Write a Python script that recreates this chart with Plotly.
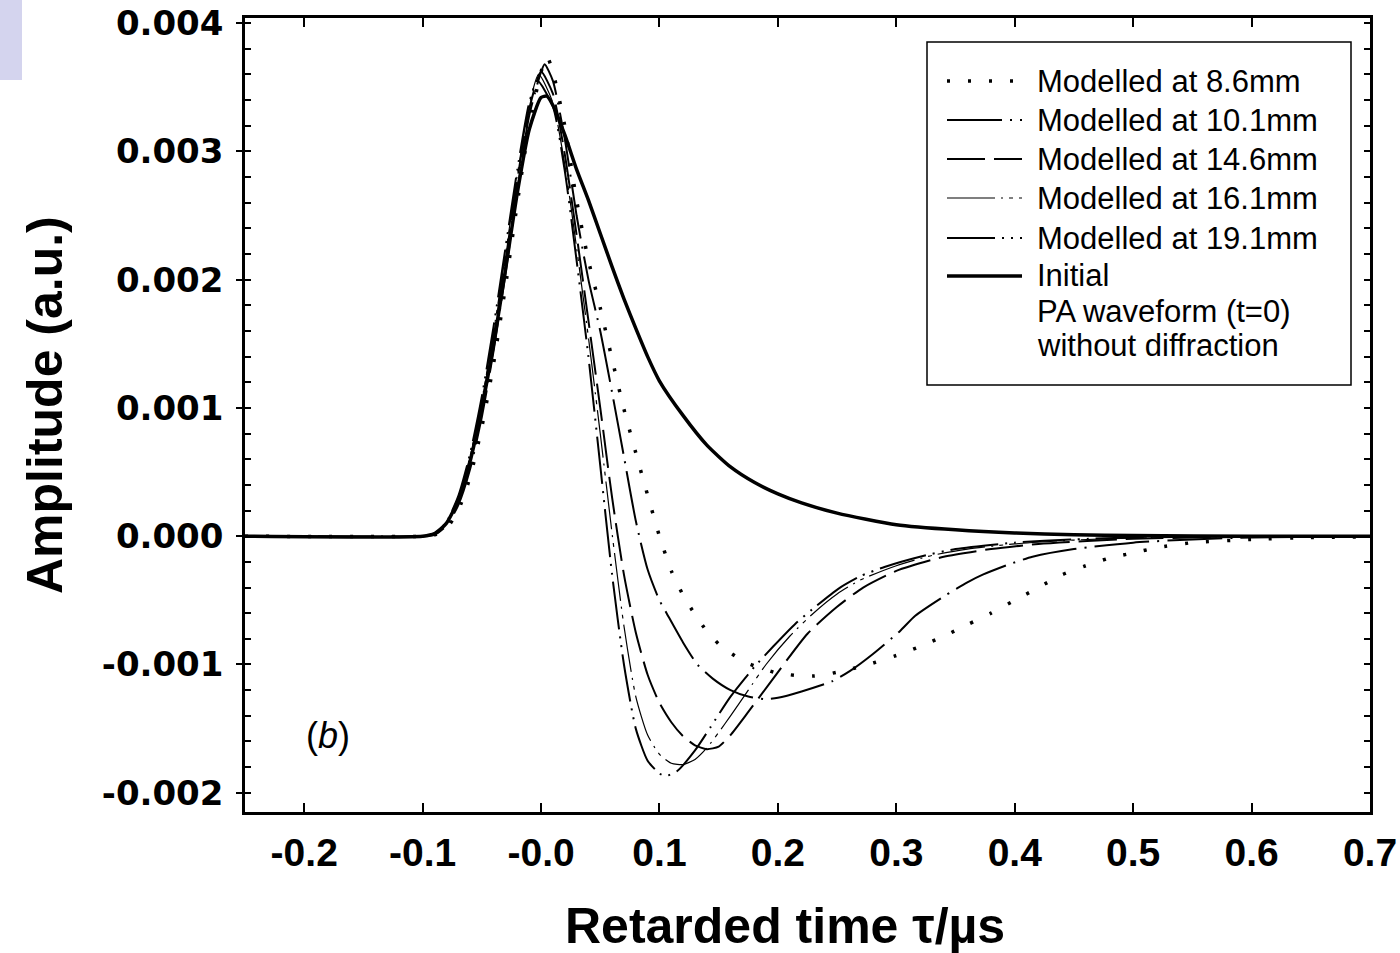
import plotly.graph_objects as go

# ---------------- data (amplitude in units of 1e-3 a.u.) ----------------
t_init = [-0.25, -0.10, -0.09, -0.08, -0.07, -0.06, -0.05, -0.04, -0.03, -0.02, -0.01, 0.0, 0.005, 0.01,
          0.02, 0.03, 0.04, 0.05, 0.06, 0.07, 0.08, 0.09, 0.10, 0.12, 0.14, 0.16, 0.18, 0.20, 0.22,
          0.25, 0.30, 0.35, 0.40, 0.45, 0.50, 0.60, 0.70]
a_init = [0.0, 0.0, 0.02, 0.10, 0.28, 0.58, 1.00, 1.50, 2.08, 2.68, 3.17, 3.42, 3.43, 3.36,
          3.13, 2.86, 2.62, 2.36, 2.10, 1.85, 1.62, 1.40, 1.21, 0.94, 0.71, 0.54, 0.42, 0.33, 0.26,
          0.18, 0.09, 0.05, 0.025, 0.012, 0.005, 0.0, 0.0]

t_86 = [-0.25, -0.10, -0.09, -0.08, -0.07, -0.06, -0.05, -0.04, -0.03, -0.02, -0.01, 0.0, 0.005, 0.01,
        0.02, 0.03, 0.04, 0.05, 0.06, 0.07, 0.08, 0.09, 0.10, 0.11, 0.12, 0.13, 0.14, 0.15, 0.16,
        0.17, 0.18, 0.19, 0.20, 0.21, 0.22, 0.23, 0.24, 0.25, 0.26, 0.28, 0.30, 0.32, 0.34, 0.36,
        0.38, 0.40, 0.42, 0.44, 0.46, 0.48, 0.50, 0.52, 0.55, 0.60, 0.65, 0.70]
a_86 = [0.0, 0.0, 0.01, 0.06, 0.20, 0.46, 0.85, 1.35, 1.95, 2.60, 3.20, 3.62, 3.74, 3.62,
        3.20, 2.62, 2.15, 1.78, 1.38, 0.99, 0.65, 0.32, 0.0, -0.27, -0.46, -0.61, -0.74, -0.84, -0.91,
        -0.97, -1.01, -1.04, -1.07, -1.08, -1.09, -1.09, -1.08, -1.06, -1.04, -0.99, -0.93, -0.86, -0.78, -0.69,
        -0.60, -0.50, -0.40, -0.30, -0.23, -0.17, -0.13, -0.09, -0.05, -0.025, -0.01, -0.005]

t_101 = [-0.25, -0.10, -0.09, -0.08, -0.07, -0.06, -0.05, -0.04, -0.03, -0.02, -0.01, 0.0, 0.003, 0.01,
         0.02, 0.03, 0.04, 0.05, 0.06, 0.07, 0.08, 0.09, 0.10, 0.106, 0.12, 0.132, 0.145, 0.16, 0.175,
         0.19, 0.20, 0.22, 0.246, 0.261, 0.28, 0.303, 0.316, 0.34, 0.36, 0.373, 0.395, 0.415, 0.45,
         0.50, 0.55, 0.60, 0.70]
a_101 = [0.0, 0.0, 0.01, 0.08, 0.24, 0.52, 0.93, 1.45, 2.05, 2.70, 3.28, 3.62, 3.68, 3.55,
         3.10, 2.50, 2.00, 1.60, 1.12, 0.62, 0.12, -0.26, -0.50, -0.60, -0.83, -1.00, -1.11, -1.20, -1.25,
         -1.27, -1.26, -1.21, -1.13, -1.05, -0.92, -0.74, -0.62, -0.47, -0.36, -0.30, -0.22, -0.16, -0.10,
         -0.05, -0.025, -0.01, 0.0]

t_146 = [-0.25, -0.10, -0.09, -0.08, -0.07, -0.06, -0.05, -0.04, -0.03, -0.02, -0.01, 0.0, 0.01,
         0.02, 0.03, 0.04, 0.05, 0.06, 0.07, 0.08, 0.09, 0.10, 0.11, 0.12, 0.13, 0.14, 0.15, 0.16,
         0.175, 0.196, 0.225, 0.25, 0.272, 0.30, 0.34, 0.38, 0.42, 0.50, 0.60, 0.70]
a_146 = [0.0, 0.0, 0.02, 0.10, 0.29, 0.60, 1.03, 1.55, 2.15, 2.78, 3.33, 3.62, 3.45,
         2.98, 2.35, 1.68, 1.00, 0.30, -0.30, -0.75, -1.08, -1.30, -1.45, -1.56, -1.63, -1.66, -1.64, -1.55,
         -1.37, -1.11, -0.76, -0.55, -0.40, -0.27, -0.16, -0.10, -0.06, -0.02, -0.005, 0.0]

t_161 = [-0.25, -0.10, -0.09, -0.08, -0.07, -0.06, -0.05, -0.04, -0.03, -0.02, -0.01, -0.002, 0.01,
         0.02, 0.03, 0.04, 0.05, 0.06, 0.07, 0.08, 0.09, 0.10, 0.11, 0.12, 0.13, 0.14, 0.15, 0.16,
         0.175, 0.19, 0.21, 0.23, 0.25, 0.27, 0.30, 0.33, 0.36, 0.40, 0.45, 0.50, 0.60, 0.70]
a_161 = [0.0, 0.0, 0.02, 0.10, 0.30, 0.62, 1.06, 1.60, 2.20, 2.82, 3.36, 3.60, 3.38,
         2.90, 2.25, 1.55, 0.80, 0.02, -0.70, -1.25, -1.55, -1.70, -1.77, -1.78, -1.74, -1.65, -1.53, -1.40,
         -1.20, -1.00, -0.78, -0.60, -0.45, -0.34, -0.23, -0.15, -0.10, -0.06, -0.03, -0.015, 0.0, 0.0]

t_191 = [-0.25, -0.10, -0.09, -0.08, -0.07, -0.06, -0.05, -0.04, -0.03, -0.02, -0.01, -0.003, 0.01,
         0.02, 0.03, 0.04, 0.05, 0.06, 0.07, 0.08, 0.09, 0.10, 0.105, 0.115, 0.13, 0.143, 0.16, 0.18,
         0.196, 0.215, 0.233, 0.251, 0.27, 0.29, 0.32, 0.35, 0.40, 0.45, 0.50, 0.60, 0.70]
a_191 = [0.0, 0.0, 0.02, 0.11, 0.31, 0.64, 1.09, 1.64, 2.25, 2.86, 3.38, 3.55, 3.35,
         2.85, 2.15, 1.40, 0.55, -0.30, -1.00, -1.50, -1.75, -1.85, -1.87, -1.83, -1.67, -1.49, -1.25, -1.02,
         -0.86, -0.68, -0.54, -0.41, -0.31, -0.24, -0.16, -0.10, -0.05, -0.025, -0.01, 0.0, 0.0]

series_names = ["Modelled at 8.6mm", "Modelled at 10.1mm", "Modelled at 14.6mm",
                "Modelled at 16.1mm", "Modelled at 19.1mm", "Initial"]
legend_extra = ["PA waveform (t=0)", "without diffraction"]

x_tickvals = [-0.2, -0.1, 0.0, 0.1, 0.2, 0.3, 0.4, 0.5, 0.6, 0.7]
x_ticktext = ["-0.2", "-0.1", "-0.0", "0.1", "0.2", "0.3", "0.4", "0.5", "0.6", "0.7"]
y_tickvals = [-0.002, -0.001, 0.0, 0.001, 0.002, 0.003, 0.004]
y_ticktext = ["-0.002", "-0.001", "0.000", "0.001", "0.002", "0.003", "0.004"]

SCALE = 1e-3

# ---------------- styles ----------------
styles = [
    dict(width=3.5, dash="3px,18px"),                       # 8.6 dotted
    dict(width=2.0, dash="55px,8px,2px,8px"),               # 10.1
    dict(width=2.0, dash="38px,9px"),                       # 14.6
    dict(width=1.2, dash="48px,6px,2px,6px,4px,6px"),       # 16.1
    dict(width=2.0, dash="48px,7px,2px,7px,2px,7px"),       # 19.1
    dict(width=3.5, dash="solid"),                          # initial
]

curves = [(t_86, a_86), (t_101, a_101), (t_146, a_146), (t_161, a_161), (t_191, a_191), (t_init, a_init)]

fig = go.Figure()
for (tt, aa), st, nm in zip(curves, styles, series_names):
    fig.add_trace(go.Scatter(
        x=tt, y=[v * SCALE for v in aa], mode="lines", name=nm, showlegend=False,
        line=dict(color="black", width=st["width"], dash=st["dash"], shape="spline", smoothing=0.6),
    ))
# invisible helper trace for the right-hand tick axis
fig.add_trace(go.Scatter(x=[0.7], y=[0.0], yaxis="y2", mode="markers",
                         marker=dict(opacity=0), showlegend=False, hoverinfo="skip"))

L, R, T, B = 245, 1370, 18, 812
W, H = 1400, 953


def px(x):
    return (x - L) / (R - L)


def py(y):
    return (B - y) / (B - T)


tick_font_x = dict(family="Liberation Sans, Arial", size=39, color="black", weight="bold")
tick_font_y = dict(family="DejaVu Sans, Arial", size=34, color="black", weight="bold")

fig.update_layout(
    width=W, height=H,
    margin=dict(l=L, r=W - R, t=T, b=H - B, pad=0, autoexpand=False),
    paper_bgcolor="white", plot_bgcolor="white",
    xaxis=dict(range=[-0.25, 0.7], tickvals=x_tickvals, ticktext=x_ticktext, automargin=False,
               showgrid=False, zeroline=False, showline=True, linecolor="black", linewidth=2.5,
               mirror="ticks", ticks="inside", ticklen=9, tickwidth=2, tickcolor="black",
               tickfont=tick_font_x, ticklabelstandoff=4, ticklabeloverflow="allow"),
    yaxis=dict(range=[-0.00215, 0.00404], tickvals=y_tickvals, ticktext=y_ticktext, automargin=False,
               showgrid=False, zeroline=False, showline=True, linecolor="black", linewidth=2.5,
               mirror=True, ticks="outside", ticklen=6, tickwidth=2, tickcolor="black",
               tickfont=tick_font_y, ticklabelstandoff=6, ticklabeloverflow="allow",
               minor=dict(ticks="inside", dtick=0.0002, tick0=0, ticklen=6, tickwidth=1.5,
                          tickcolor="black", showgrid=False)),
    yaxis2=dict(range=[-0.00215, 0.00404], overlaying="y", side="right", showgrid=False, automargin=False,
                zeroline=False, showline=False, ticks="inside", dtick=0.0002, tick0=0,
                ticklen=6, tickwidth=1.5, tickcolor="black", showticklabels=False),
    showlegend=False,
)

shapes = []
annotations = []

# decorative lavender block at top-left
shapes.append(dict(type="rect", xref="paper", yref="paper", x0=px(0), x1=px(22), y0=py(80), y1=py(0),
                   fillcolor="#d4d4ee", line=dict(width=0), layer="below"))

# legend box
shapes.append(dict(type="rect", xref="paper", yref="paper", x0=px(927), x1=px(1351), y0=py(385), y1=py(42),
                   fillcolor="white", line=dict(color="black", width=1.5)))
row_y = [81, 120, 159, 198, 238, 276]
for yy, st, nm in zip(row_y, styles, series_names):
    shapes.append(dict(type="line", xref="paper", yref="paper", x0=px(947), x1=px(1022), y0=py(yy), y1=py(yy),
                       line=dict(color="black", width=st["width"], dash=st["dash"])))
    annotations.append(dict(text=nm, xref="paper", yref="paper", x=px(1035), y=py(yy), xanchor="left",
                            yanchor="middle", showarrow=False,
                            font=dict(family="Liberation Sans, Arial", size=31, color="black")))
for yy, txt in zip([311, 345], legend_extra):
    annotations.append(dict(text=txt, xref="paper", yref="paper", x=px(1035), y=py(yy), xanchor="left",
                            yanchor="middle", showarrow=False,
                            font=dict(family="Liberation Sans, Arial", size=31, color="black")))

# axis titles
annotations.append(dict(text="Retarded time τ/µs", xref="paper", yref="paper", x=px(785), y=py(926),
                        xanchor="center", yanchor="middle", showarrow=False,
                        font=dict(family="Liberation Sans, Arial", size=50, color="black", weight="bold")))
annotations.append(dict(text="Amplitude (a.u.)", xref="paper", yref="paper", x=px(45), y=py(405),
                        xanchor="center", yanchor="middle", showarrow=False, textangle=-90,
                        font=dict(family="Liberation Sans, Arial", size=50, color="black", weight="bold")))
# panel label
annotations.append(dict(text="(<i>b</i>)", xref="paper", yref="paper", x=px(328), y=py(735),
                        xanchor="center", yanchor="middle", showarrow=False,
                        font=dict(family="Liberation Sans, Arial", size=36, color="black")))

fig.update_layout(shapes=shapes, annotations=annotations)
fig.write_html("out.html")
